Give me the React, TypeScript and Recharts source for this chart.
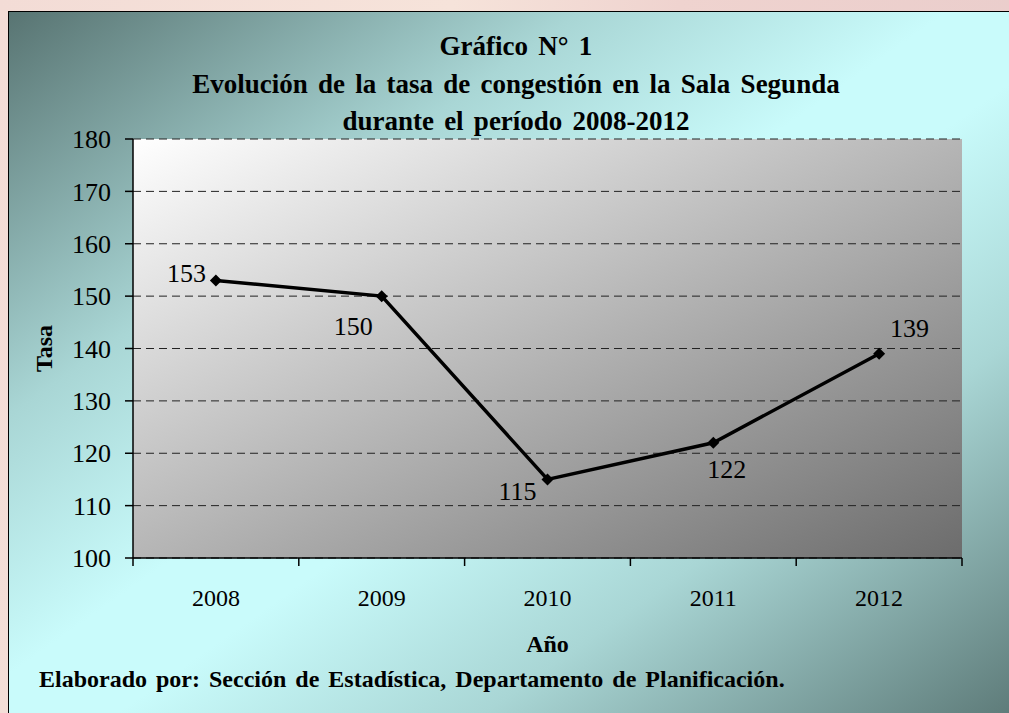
import React from "react";
import {
  LineChart,
  Line,
  XAxis,
  YAxis,
  CartesianGrid,
  LabelList,
} from "recharts";

const years = ["2008", "2009", "2010", "2011", "2012"];
const tasa = [153, 150, 115, 122, 139];
const yTicks = [100, 110, 120, 130, 140, 150, 160, 170, 180];

const titleLines = [
  "Gráfico N° 1",
  "Evolución de la tasa de congestión en la Sala Segunda",
  "durante el período 2008-2012",
];
const yLabel = "Tasa";
const xLabel = "Año";
const footer =
  "Elaborado por: Sección de Estadística, Departamento de Planificación.";

// where each data label sits around its point (Excel-like placement)
const labelPlacement = [
  { dx: -10, dy: 2, anchor: "end" },
  { dx: -9, dy: 39, anchor: "end" },
  { dx: -11, dy: 21, anchor: "end" },
  { dx: -6, dy: 35, anchor: "start" },
  { dx: 11, dy: -17, anchor: "start" },
];

const data = years.map((year, i) => ({ year, tasa: tasa[i] }));

const serif = "'Liberation Serif', 'Times New Roman', serif";
const X_TICK_SIZE = 8;
const X_TICK_MARGIN = 23;

const Diamond = (props: any) => {
  const { cx, cy, index } = props;
  if (cx == null || cy == null) return null;
  const r = 6;
  return (
    <polygon
      key={`d-${index}`}
      points={`${cx},${cy - r} ${cx + r},${cy} ${cx},${cy + r} ${cx - r},${cy}`}
      fill="#000"
    />
  );
};

const renderValue = (props: any) => {
  const { x, y, value, index } = props;
  const p = labelPlacement[index] || { dx: 0, dy: -10, anchor: "middle" };
  return (
    <text
      x={x + p.dx}
      y={y + p.dy}
      textAnchor={p.anchor}
      fontFamily={serif}
      fontSize={26}
      fill="#000"
    >
      {value}
    </text>
  );
};

// category label in the middle, Excel-style tick marks on the band edges
const YearTick = (props: any) => {
  const { x, y, payload, index, width, visibleTicksCount } = props;
  const count = visibleTicksCount || years.length;
  const half =
    payload && typeof payload.offset === "number" && payload.offset > 0
      ? payload.offset
      : width / count / 2;
  const axisY = y - X_TICK_SIZE - X_TICK_MARGIN;
  const isLast = index === count - 1;
  return (
    <g>
      <line
        x1={x - half}
        x2={x - half}
        y1={axisY}
        y2={axisY + X_TICK_SIZE}
        stroke="#000"
        strokeWidth={1.5}
      />
      {isLast && (
        <line
          x1={x + half}
          x2={x + half}
          y1={axisY}
          y2={axisY + X_TICK_SIZE}
          stroke="#000"
          strokeWidth={1.5}
        />
      )}
      <text
        x={x}
        y={y}
        dy="0.71em"
        textAnchor="middle"
        fontFamily={serif}
        fontSize={24}
        fill="#000"
      >
        {payload.value}
      </text>
    </g>
  );
};

export default function App() {
  return (
    <div
      style={{
        position: "absolute",
        left: 0,
        top: 0,
        width: 1009,
        height: 713,
        overflow: "hidden",
        background:
          "linear-gradient(100deg, #f3dcd6 0%, #f6e3da 40%, #efd3cf 60%, #e9cccb 100%)",
      }}
    >
      <div
        style={{
          position: "absolute",
          left: 8,
          top: 11,
          width: 1020,
          height: 720,
          borderTop: "1px solid #000",
          borderLeft: "1px solid #000",
          background:
            "linear-gradient(to bottom right, #587472 0%, #a9d6d5 28%, #c9fbfb 46%, #c9fbfb 54%, #a9d6d5 72%, #587472 100%)",
        }}
      />
      <div
        style={{
          position: "absolute",
          left: 116,
          top: 28,
          width: 800,
          textAlign: "center",
          fontFamily: serif,
          fontWeight: "bold",
          fontSize: 27,
          wordSpacing: 3.5,
          lineHeight: "37.5px",
          color: "#000",
        }}
      >
        {titleLines.map((t) => (
          <div key={t}>{t}</div>
        ))}
      </div>
      <div
        style={{
          position: "absolute",
          left: 39,
          top: 667,
          fontFamily: serif,
          fontWeight: "bold",
          fontSize: 24,
          wordSpacing: 3,
          lineHeight: "24px",
          whiteSpace: "nowrap",
          color: "#000",
        }}
      >
        {footer}
      </div>
      <div style={{ position: "absolute", left: 0, top: 0 }}>
        <LineChart
          width={1009}
          height={713}
          data={data}
          margin={{ top: 139, right: 47, left: 8, bottom: 95 }}
        >
          <defs>
            <linearGradient id="plotBg" x1="0" y1="0" x2="1" y2="1">
              <stop offset="0%" stopColor="#ffffff" />
              <stop offset="100%" stopColor="#6c6c6c" />
            </linearGradient>
          </defs>
          <CartesianGrid
            vertical={false}
            fill="url(#plotBg)"
            stroke="#222"
            strokeDasharray="8 5"
          />
          <XAxis
            dataKey="year"
            scale="band"
            height={60}
            tickLine={false}
            tickSize={X_TICK_SIZE}
            tickMargin={X_TICK_MARGIN}
            axisLine={{ stroke: "#000", strokeWidth: 1.5 }}
            tick={YearTick}
            interval={0}
            label={{
              content: (p: any) => {
                const vb = p.viewBox || {};
                return (
                  <text
                    x={vb.x + vb.width / 2}
                    y={652}
                    textAnchor="middle"
                    fontFamily={serif}
                    fontWeight="bold"
                    fontSize={24}
                    fill="#000"
                  >
                    {xLabel}
                  </text>
                );
              },
            }}
          />
          <XAxis
            xAxisId="top"
            orientation="top"
            dataKey="year"
            height={0}
            tick={false}
            tickLine={false}
            axisLine={{ stroke: "#808080", strokeWidth: 2 }}
          />
          <YAxis
            width={125}
            domain={[100, 180]}
            ticks={yTicks}
            tickSize={8}
            tickMargin={14}
            axisLine={{ stroke: "#000", strokeWidth: 1.5 }}
            tickLine={{ stroke: "#000", strokeWidth: 1.5 }}
            tick={{ fill: "#000", fontSize: 26, fontFamily: serif }}
            label={{
              content: (p: any) => {
                const vb = p.viewBox || {};
                const cx = 52;
                const cy = vb.y + vb.height / 2;
                return (
                  <text
                    x={cx}
                    y={cy}
                    transform={`rotate(-90, ${cx}, ${cy})`}
                    textAnchor="middle"
                    fontFamily={serif}
                    fontWeight="bold"
                    fontSize={24}
                    fill="#000"
                  >
                    {yLabel}
                  </text>
                );
              },
            }}
          />
          <YAxis
            yAxisId="right"
            orientation="right"
            type="number"
            domain={[0, 1]}
            width={0}
            tick={false}
            tickLine={false}
            axisLine={{ stroke: "#808080", strokeWidth: 2 }}
          />
          <Line
            type="linear"
            dataKey="tasa"
            stroke="#000"
            strokeWidth={3.5}
            dot={Diamond}
            activeDot={false}
            isAnimationActive={false}
          >
            <LabelList dataKey="tasa" content={renderValue} />
          </Line>
        </LineChart>
      </div>
    </div>
  );
}
